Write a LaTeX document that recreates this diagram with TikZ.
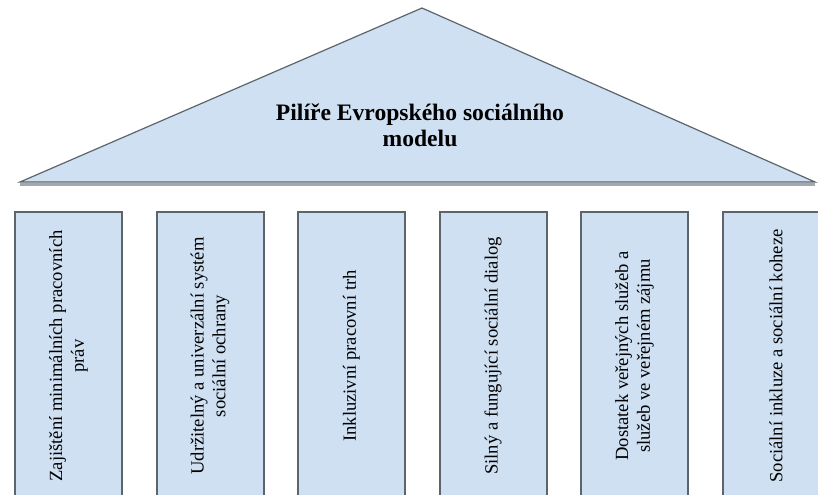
\documentclass[tikz,border=0pt]{standalone}
\usepackage{fontspec}
\setmainfont{Liberation Serif}
\usepackage{tikz}
\usetikzlibrary{positioning}
\definecolor{pillarblue}{RGB}{207,224,242}
\definecolor{edgegray}{RGB}{92,100,108}
\definecolor{shadowgray}{RGB}{160,168,176}
\tikzset{
    pillar/.style={draw=edgegray, line width=1pt, fill=pillarblue, rotate=90,
        minimum width=144pt, minimum height=53.5pt, inner sep=0pt, align=center,
        font=\fontsize{9.3}{10.8}\selectfont},
}

\begin{document}
\begin{tikzpicture}[x=0.5pt,y=0.5pt]
\useasboundingbox (0,0) rectangle (818,494);
% roof
\coordinate (apex) at (422,486);
\coordinate (left) at (20,312);
\coordinate (right) at (815,312);
\draw[shadowgray, line width=1.5pt] ([yshift=-1pt]left)--([yshift=-1pt]right);
\filldraw[fill=pillarblue, draw=edgegray, line width=0.6pt] (left)--(apex)--(right)--cycle;
\node[font=\fontsize{11.8}{13}\selectfont\bfseries, align=center] (title) at (420,369) {Pilíře Evropského sociálního\\modelu};

% pillars
\node[pillar] (p1) at (68.5,138) {Zajištění minimálních pracovních\\práv};
\node[pillar] (p2) at (210,138) {Udržitelný a univerzální systém\\sociální ochrany};
\node[pillar] (p3) at (351.5,138) {Inkluzivní pracovní trh};
\node[pillar] (p4) at (493,138) {Silný a fungující sociální dialog};
\node[pillar] (p5) at (634.5,138) {Dostatek veřejných služeb a\\služeb ve veřejném zájmu};
\node[pillar] (p6) at (776,138) {Sociální inkluze a sociální koheze};
\end{tikzpicture}
\end{document}
